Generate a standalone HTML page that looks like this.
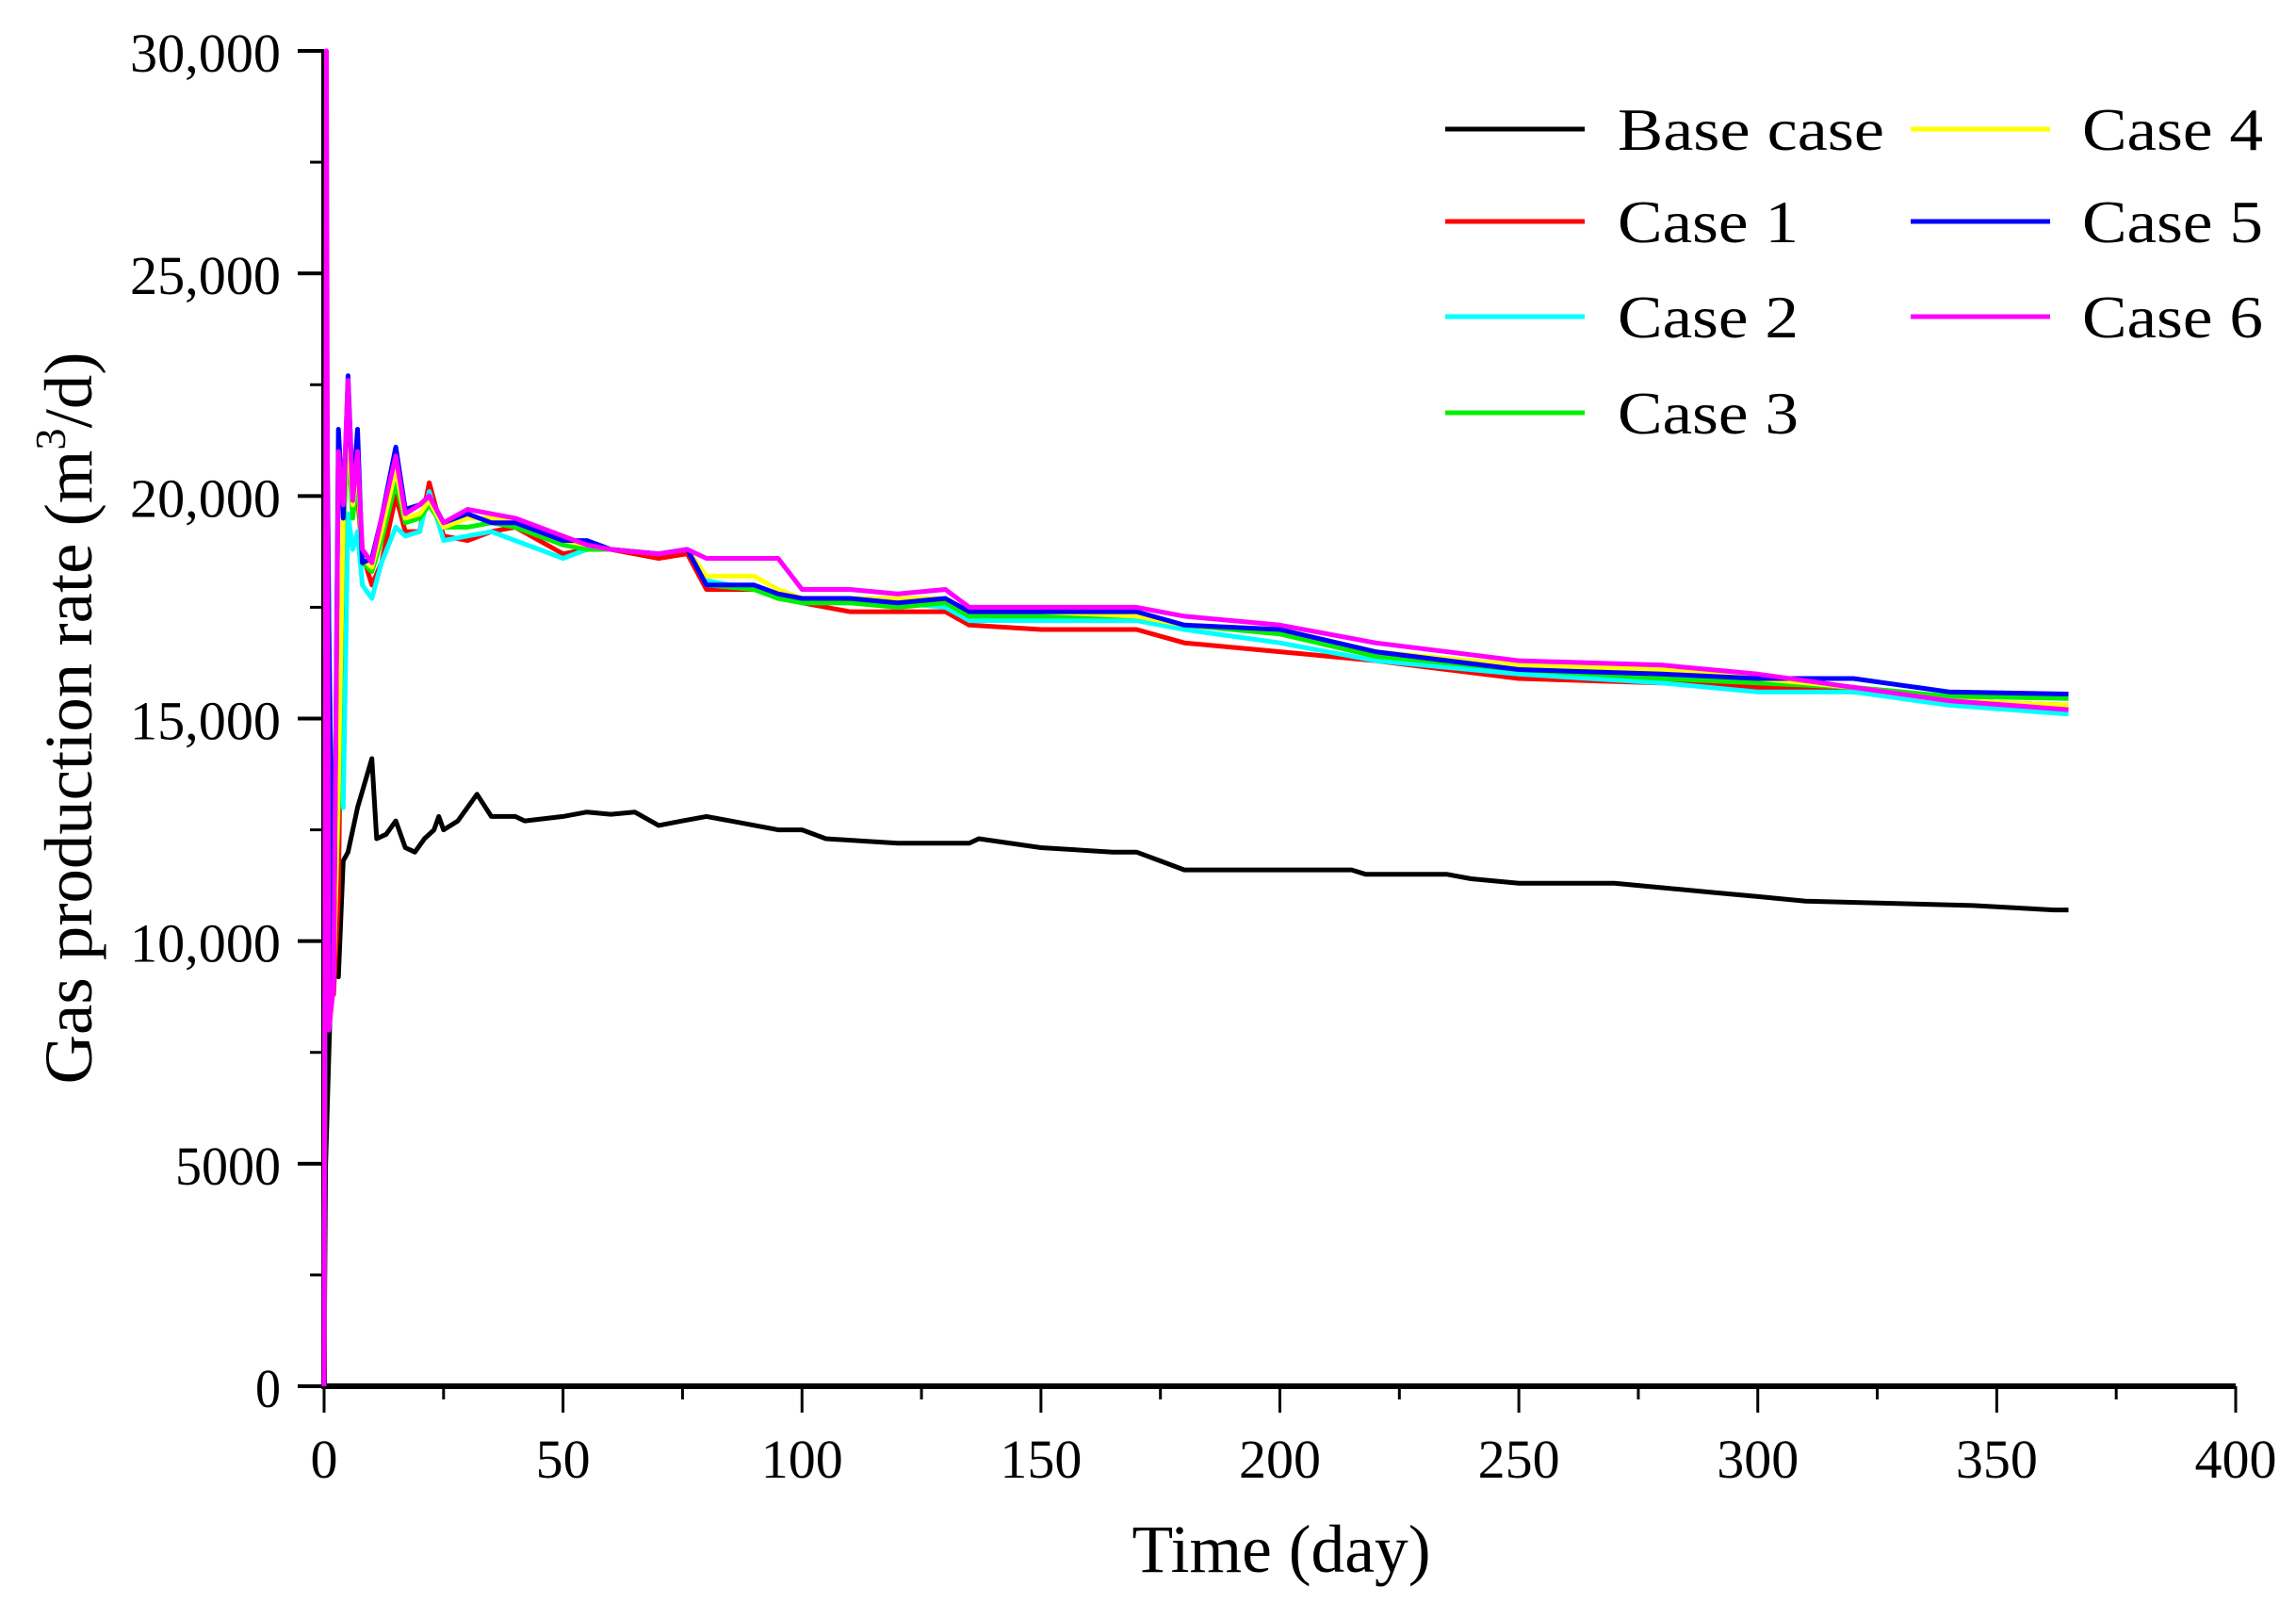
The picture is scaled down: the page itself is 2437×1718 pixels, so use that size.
<!DOCTYPE html>
<html><head><meta charset="utf-8"><style>
html,body{margin:0;padding:0;background:#fff;}
svg{display:block;font-family:"Liberation Serif",serif;}
</style></head><body>
<svg id="chart" width="2437" height="1718" viewBox="0 0 2437 1718" xmlns="http://www.w3.org/2000/svg">
<g id="axes"></g>
<g id="series"></g>
<g id="legend"></g>
<text x="1360" y="1668" font-size="72" text-anchor="middle" textLength="317" lengthAdjust="spacingAndGlyphs">Time (day)</text>
<text transform="translate(97,762) rotate(-90)" font-size="72" text-anchor="middle" textLength="777" lengthAdjust="spacingAndGlyphs">Gas production rate (m<tspan font-size="46" dy="-28">3</tspan><tspan dy="28">/d)</tspan></text>
</svg>
<script>
const xTicks=[0,50,100,150,200,250,300,350,400];
const xTickLabels=["0","50","100","150","200","250","300","350","400"];
const yTicks=[0,5000,10000,15000,20000,25000,30000];
const yTickLabels=["0","5000","10,000","15,000","20,000","25,000","30,000"];
const seriesNames=["Base case","Case 1","Case 2","Case 3","Case 4","Case 5","Case 6"];
const seriesColors=["#000000","#ff0000","#00ffff","#00ee00","#ffff00","#0000ff","#ff00ff"];
const baseTimes=[0,0.3,1,2,3,4,5,7,10,11,13,15,17,19,21,23,24,25,28,32,35,40,42,50,55,60,65,70,75,80,85,95,100,105,120,135,137,150,165,170,175,180,195,215,218,235,240,250,270,280,290,300,310,345,362,365];
const baseValues=[0,4900,7500,11000,9200,11800,12000,13000,14100,12300,12400,12700,12100,12000,12300,12500,12800,12500,12700,13300,12800,12800,12700,12800,12900,12850,12900,12600,12700,12800,12700,12500,12500,12300,12200,12200,12300,12100,12000,12000,11800,11600,11600,11600,11500,11500,11400,11300,11300,11200,11100,11000,10900,10800,10700,10700];
const caseTimes=[0,0.5,1,2,3,4,5,6,7,8,10,12,15,17,20,22,25,30,35,40,45,50,55,60,70,76,80,90,95,100,110,120,130,135,150,170,180,200,220,250,280,300,320,340,365];
const case1=[0,22500,12000,8800,11000,19500,21000,19700,20000,18700,18000,18500,20000,19200,19200,20300,19100,19000,19200,19300,19000,18700,18800,18800,18600,18700,17900,17900,17800,17600,17400,17400,17400,17100,17000,17000,16700,16500,16300,15900,15800,15700,15600,15400,15300];
const case2=[0,23000,14000,9000,18000,13000,19600,18800,19200,18000,17700,18500,19300,19100,19200,20100,19000,19100,19200,19000,18800,18600,18800,18800,18700,18800,18100,17900,17700,17600,17600,17600,17500,17200,17200,17200,17000,16700,16300,16000,15800,15600,15600,15300,15100];
const case3=[0,23200,17000,9500,13000,19200,21300,19500,20500,18500,18300,19000,20300,19400,19500,19800,19300,19300,19400,19300,19100,18900,18800,18800,18700,18800,18000,17900,17700,17600,17600,17500,17600,17300,17300,17300,17100,16900,16400,16100,15900,15800,15700,15500,15450];
const case4=[0,22000,15000,9200,13500,19500,21500,19800,20800,18600,18400,19200,20600,19500,19600,19900,19300,19500,19500,19400,19200,19000,18900,18800,18700,18800,18200,18200,17900,17700,17700,17700,17700,17400,17400,17300,17100,17000,16500,16200,16100,15900,15700,15400,15300];
const case5=[0,23000,17000,9000,21500,19500,22700,20000,21500,18500,18600,19500,21100,19700,19800,20000,19400,19600,19400,19400,19200,19000,19000,18800,18700,18800,18000,18000,17800,17700,17700,17600,17700,17400,17400,17400,17100,17000,16500,16100,16000,15900,15900,15600,15550];
const case6=[0,30000,8000,9000,21000,19800,22600,19900,21000,18800,18500,19500,20900,19600,19800,20000,19400,19700,19600,19500,19300,19100,18900,18800,18700,18800,18600,18600,18600,17900,17900,17800,17900,17500,17500,17500,17300,17100,16700,16300,16200,16000,15700,15400,15200];

const NS="http://www.w3.org/2000/svg";
const X0=344,X1=2373,Y0=1471,Y1=54;
function sx(t){return X0+(t/400)*(X1-X0);}
function sy(v){return Y0-(v/30000)*(Y0-Y1);}
function mk(tag,attrs,parent){const e=document.createElementNS(NS,tag);for(const k in attrs)e.setAttribute(k,attrs[k]);parent.appendChild(e);return e;}
const axes=document.getElementById('axes');
const series=document.getElementById('series');
const legend=document.getElementById('legend');

for(let t=25;t<400;t+=50){const m=mk('line',{x1:sx(t),x2:sx(t),y1:Y0,y2:Y0+14,stroke:'#000','stroke-width':3},axes);

}
for(let v=2500;v<30000;v+=5000){const m=mk('line',{x1:X0-15,x2:X0,y1:sy(v),y2:sy(v),stroke:'#000','stroke-width':3},axes);

}
xTicks.forEach((t,i)=>{
 const l=mk('line',{x1:sx(t),x2:sx(t),y1:Y0,y2:Y0+28,stroke:'#000','stroke-width':3},axes);
 
 
 const lab=xTickLabels[i];
 const tx=mk('text',{x:sx(t),y:1568,'font-size':58,'text-anchor':'middle',textLength:lab.length*29,lengthAdjust:'spacingAndGlyphs'},axes);
 tx.textContent=lab;
 
 
});
yTicks.forEach((v,i)=>{
 const l=mk('line',{x1:X0-28,x2:X0,y1:sy(v),y2:sy(v),stroke:'#000','stroke-width':4},axes);
 
 
 const lab=yTickLabels[i];
 const w=lab.length===6?160:(lab.length===4?112:27);
 const tx=mk('text',{x:298,y:sy(v)+22,'font-size':58,'text-anchor':'end',textLength:w,lengthAdjust:'spacingAndGlyphs'},axes);
 tx.textContent=lab;
 
 
});
const xa=mk('line',{x1:X0-3,x2:X1,y1:Y0,y2:Y0,stroke:'#000','stroke-width':6},axes);


const ya=mk('line',{x1:X0,x2:X0,y1:Y1,y2:Y0,stroke:'#000','stroke-width':6},axes);



const allData=[[baseTimes,baseValues],[caseTimes,case1],[caseTimes,case2],[caseTimes,case3],[caseTimes,case4],[caseTimes,case5],[caseTimes,case6]];
allData.forEach((d,i)=>{
 const pts=d[0].map((t,j)=>sx(t).toFixed(1)+','+sy(d[1][j]).toFixed(1)).join(' ');
 const p=mk('polyline',{points:pts,fill:'none',stroke:seriesColors[i],'stroke-width':5,'stroke-linejoin':'round'},series);
 
 
});

const legRows=[137,235,336,438];
seriesNames.forEach((n,i)=>{
 const col=i<4?0:1,row=i<4?i:i-4;
 const lx=col===0?1534:2028, tx=col===0?1717:2210, y=legRows[row];
 const g=mk('g',{},legend);
 
 
 mk('line',{x1:lx,x2:lx+148,y1:y,y2:y,stroke:seriesColors[i],'stroke-width':5},g);
 const t=mk('text',{x:tx,y:y+22,'font-size':64,textLength:n==='Base case'?283:192,lengthAdjust:'spacingAndGlyphs'},g);
 t.textContent=n;
});
</script>
</body></html>
